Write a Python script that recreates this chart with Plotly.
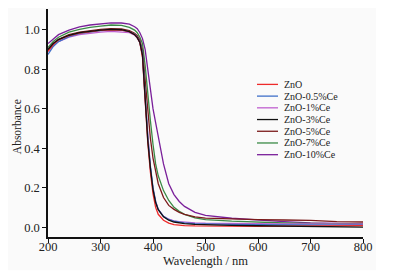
import plotly.graph_objects as go

wavelength = [200, 210, 220, 240, 260, 280, 300, 320, 340, 355, 365, 370, 375, 380, 385, 390, 395,
              400, 405, 410, 420, 430, 440, 450, 460, 480, 500, 550, 600, 650, 700, 750, 800]

zno = [0.89, 0.925, 0.948, 0.97, 0.983, 0.99, 0.997, 1.0, 0.998, 0.99, 0.975, 0.96, 0.935, 0.86, 0.63, 0.43, 0.28,
       0.17, 0.10, 0.065, 0.035, 0.02, 0.013, 0.01, 0.008, 0.006, 0.005, 0.004, 0.004, 0.005, 0.006, 0.007, 0.008]
ce05 = [0.875, 0.915, 0.94, 0.965, 0.98, 0.988, 0.995, 1.0, 0.998, 0.99, 0.977, 0.963, 0.94, 0.88, 0.66, 0.46, 0.31,
        0.20, 0.13, 0.09, 0.055, 0.038, 0.03, 0.025, 0.022, 0.018, 0.016, 0.014, 0.013, 0.012, 0.012, 0.011, 0.010]
ce1 = [0.89, 0.92, 0.94, 0.962, 0.975, 0.982, 0.988, 0.992, 0.99, 0.985, 0.972, 0.958, 0.935, 0.87, 0.65, 0.45, 0.30,
       0.195, 0.13, 0.09, 0.055, 0.04, 0.032, 0.028, 0.025, 0.022, 0.02, 0.018, 0.017, 0.016, 0.016, 0.015, 0.015]
ce3 = [0.90, 0.93, 0.95, 0.972, 0.985, 0.992, 0.998, 1.002, 1.0, 0.99, 0.975, 0.96, 0.935, 0.87, 0.64, 0.44, 0.30,
       0.19, 0.125, 0.088, 0.052, 0.035, 0.026, 0.021, 0.018, 0.014, 0.012, 0.009, 0.007, 0.005, 0.004, 0.002, 0.0]
ce5 = [0.90, 0.93, 0.952, 0.975, 0.988, 0.996, 1.002, 1.006, 1.004, 0.995, 0.982, 0.97, 0.948, 0.895, 0.75, 0.57, 0.45,
       0.35, 0.28, 0.22, 0.15, 0.11, 0.09, 0.075, 0.065, 0.052, 0.046, 0.041, 0.038, 0.036, 0.034, 0.028, 0.026]
ce7 = [0.91, 0.94, 0.962, 0.988, 1.002, 1.012, 1.018, 1.024, 1.022, 1.012, 0.998, 0.985, 0.962, 0.93, 0.82, 0.67, 0.54,
       0.42, 0.32, 0.26, 0.185, 0.135, 0.10, 0.08, 0.065, 0.047, 0.038, 0.03, 0.025, 0.021, 0.019, 0.017, 0.015]
ce10 = [0.93, 0.955, 0.975, 0.998, 1.015, 1.024, 1.03, 1.035, 1.034, 1.028, 1.015, 1.005, 0.985, 0.955, 0.90, 0.79, 0.68,
        0.60, 0.53, 0.46, 0.32, 0.22, 0.165, 0.13, 0.105, 0.075, 0.06, 0.045, 0.035, 0.028, 0.022, 0.018, 0.016]

names = ["ZnO", "ZnO-0.5%Ce", "ZnO-1%Ce", "ZnO-3%Ce", "ZnO-5%Ce", "ZnO-7%Ce", "ZnO-10%Ce"]
series = [zno, ce05, ce1, ce3, ce5, ce7, ce10]
colors = ["#ee2a2a", "#3f6fc8", "#c060d0", "#111111", "#7a1a1a", "#3a8a45", "#7a1f9a"]

x_ticks = [200, 300, 400, 500, 600, 700, 800]
y_ticks = [0.0, 0.2, 0.4, 0.6, 0.8, 1.0]

FONT = "Liberation Serif"

fig = go.Figure()
order = [6, 5, 4, 2, 1, 0, 3]
for i in order:
    fig.add_trace(go.Scatter(x=wavelength, y=series[i], mode="lines", name=names[i],
                             line=dict(color=colors[i], width=1.3), showlegend=False))

# the page adds an 8px body margin, so the figure is 392x268 and coordinates are in figure px
FW, FH = 392, 268
L, R, T, B = 40, 355, 1, 228.7
W, H = R - L, B - T

def px_x(p):
    return (p - L) / W

def px_y(p):
    return (B - p) / H

shapes = [dict(type="rect", xref="paper", yref="paper", x0=px_x(0), x1=px_x(368), y0=px_y(262), y1=px_y(0),
               fillcolor="#fafafa", line=dict(width=0), layer="below")]
annotations = [
    dict(xref="paper", yref="paper", x=0.5, y=px_y(252.5), text="Wavelength / nm", showarrow=False,
         xanchor="center", yanchor="middle", font=dict(family=FONT, size=12.5, color="#222")),
    dict(xref="paper", yref="paper", x=px_x(9), y=px_y(119), text="Absorbance", showarrow=False, textangle=-90,
         xanchor="center", yanchor="middle", font=dict(family=FONT, size=11.5, color="#222")),
]
for i, nm in enumerate(names):
    yy = px_y(76.3 + 11.7 * i)
    shapes.append(dict(type="line", xref="paper", yref="paper", x0=px_x(249), x1=px_x(270), y0=yy, y1=yy,
                       line=dict(color=colors[i], width=1.3)))
    annotations.append(dict(xref="paper", yref="paper", x=px_x(274), y=yy, text=nm, showarrow=False,
                            xanchor="left", yanchor="middle", font=dict(family=FONT, size=10, color="#222")))

fig.update_layout(
    width=FW, height=FH,
    margin=dict(l=L, r=FW - R, t=T, b=FH - B),
    paper_bgcolor="white", plot_bgcolor="#fafafa",
    font=dict(family=FONT, size=12, color="#222"),
    shapes=shapes, annotations=annotations,
    showlegend=False,
)
fig.update_xaxes(range=[200, 800], tickvals=x_ticks, ticktext=[str(v) for v in x_ticks], automargin=False,
                 showline=True, linecolor="#111", linewidth=1.5, ticks="outside", ticklen=4,
                 tickcolor="#111", tickwidth=1.2, showgrid=False, zeroline=False, ticklabelstandoff=-7,
                 tickfont=dict(family=FONT, size=12.5))
fig.update_yaxes(range=[-0.05, 1.105], tickvals=y_ticks, ticktext=[f"{v:.1f}" for v in y_ticks], automargin=False,
                 showline=True, linecolor="#111", linewidth=1.5, ticks="outside", ticklen=4,
                 tickcolor="#111", tickwidth=1.2, showgrid=False, zeroline=False,
                 tickfont=dict(family=FONT, size=12.5))

fig.write_html("out.html")
